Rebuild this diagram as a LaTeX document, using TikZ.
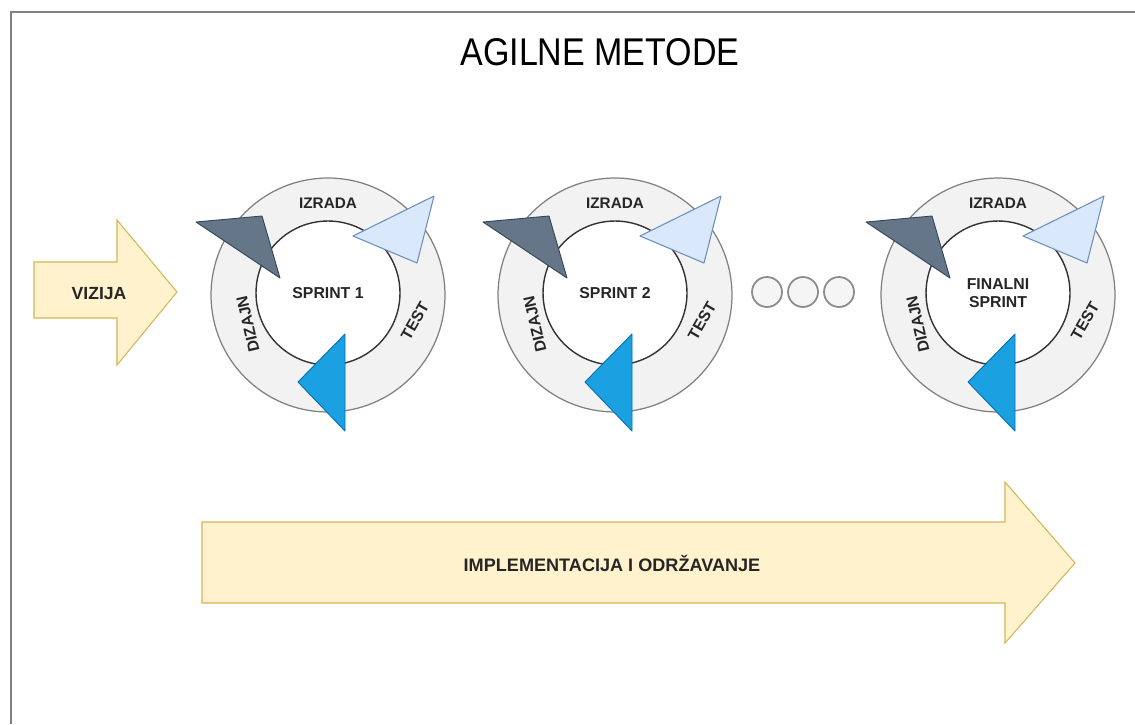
\documentclass[tikz,border=0pt]{standalone}
\usepackage{fontspec}
\setmainfont{Liberation Sans}
\begin{document}
\begin{tikzpicture}[x=0.02cm,y=-0.02cm,
  outerring/.style={circle,draw=black!50,fill=black!5,line width=0.7pt,minimum size=4.68cm,inner sep=0pt},
  innerc/.style={circle,draw=black!80,fill=white,line width=0.8pt,minimum size=2.88cm,inner sep=0pt},
  lbl/.style={font=\bfseries\fontsize{9}{10.5}\selectfont,text=black!85,inner sep=0pt,align=center},
  darktri/.style={fill=slate,draw=slatedk,line width=0.5pt,line join=round},
  lighttri/.style={fill=lblue,draw=lbluedk,line width=0.6pt,line join=round},
  bluetri/.style={fill=cblue,draw=cbluedk,line width=0.5pt,line join=round},
  yarrow/.style={fill=yfill,draw=ystroke,line width=0.6pt,line join=miter},
  dot/.style={circle,draw=black!45,fill=black!4,line width=1pt,minimum size=0.6cm,inner sep=0pt}]
\definecolor{slate}{HTML}{647687}
\definecolor{slatedk}{HTML}{314354}
\definecolor{lblue}{HTML}{DAE8FC}
\definecolor{lbluedk}{HTML}{6C8EBF}
\definecolor{cblue}{HTML}{1BA1E2}
\definecolor{cbluedk}{HTML}{006EAF}
\definecolor{yfill}{HTML}{FFF2CC}
\definecolor{ystroke}{HTML}{D6B656}
\useasboundingbox (0,0) rectangle (1135,724);
\fill[white] (0,0) rectangle (1135,724);
% partial frame
\coordinate (ftl) at (11,12);
\coordinate (fr) at (1135,12);
\coordinate (fb) at (11,724);
\draw[black!50,line width=0.9pt] (fb) -- (ftl) -- (fr);
% title
\node[font=\fontsize{22}{26}\selectfont,xscale=0.88,inner sep=0pt] (title) at (600,52) {AGILNE METODE};
% vizija arrow
\draw[yarrow] (34,262) -- (117,262) -- (117,220) -- (177,292) -- (117,365) -- (117,318) -- (34,318) -- cycle;
\node[font=\bfseries\fontsize{10}{12}\selectfont,text=black!85,inner sep=0pt] (vizija) at (99,294) {VIZIJA};
% big arrow
\draw[yarrow] (202,522) -- (1005,522) -- (1005,482) -- (1075,563) -- (1005,643) -- (1005,603) -- (202,603) -- cycle;
\node[font=\bfseries\fontsize{10.3}{12}\selectfont,text=black!85,inner sep=0pt] (impl) at (612,563) {IMPLEMENTACIJA I ODRŽAVANJE};
% sprints
\foreach \cx/\nm/\lab in {328/a/{SPRINT 1}, 615/b/{SPRINT 2}, 998/c/{FINALNI\\SPRINT}}{
  \begin{scope}[shift={(\cx,295)}]
    \node[outerring] (o\nm) at (0,0) {};
    \node[innerc] (i\nm) at (0,-2) {};
    \draw[darktri] (-132,-73) -- (-66,-79) -- (-48,-17) -- cycle;
    \draw[lighttri] (25,-59) -- (106,-99) -- (89,-32) -- cycle;
    \draw[bluetri] (-30,87) -- (17,39) -- (17,136) -- cycle;
    \node[lbl] (t\nm) at (0,-2) {\lab};
    \node[lbl,font=\bfseries\fontsize{8.7}{10}\selectfont] (iz\nm) at (0,-92) {IZRADA};
    \node[lbl,rotate=103] (dz\nm) at (-80,29) {DIZAJN};
    \node[lbl,rotate=60] (ts\nm) at (87,26) {TEST};
  \end{scope}
}
% dots
\node[dot] (d1) at (767,292) {};
\node[dot] (d2) at (803,292) {};
\node[dot] (d3) at (839,292) {};
\end{tikzpicture}
\end{document}
